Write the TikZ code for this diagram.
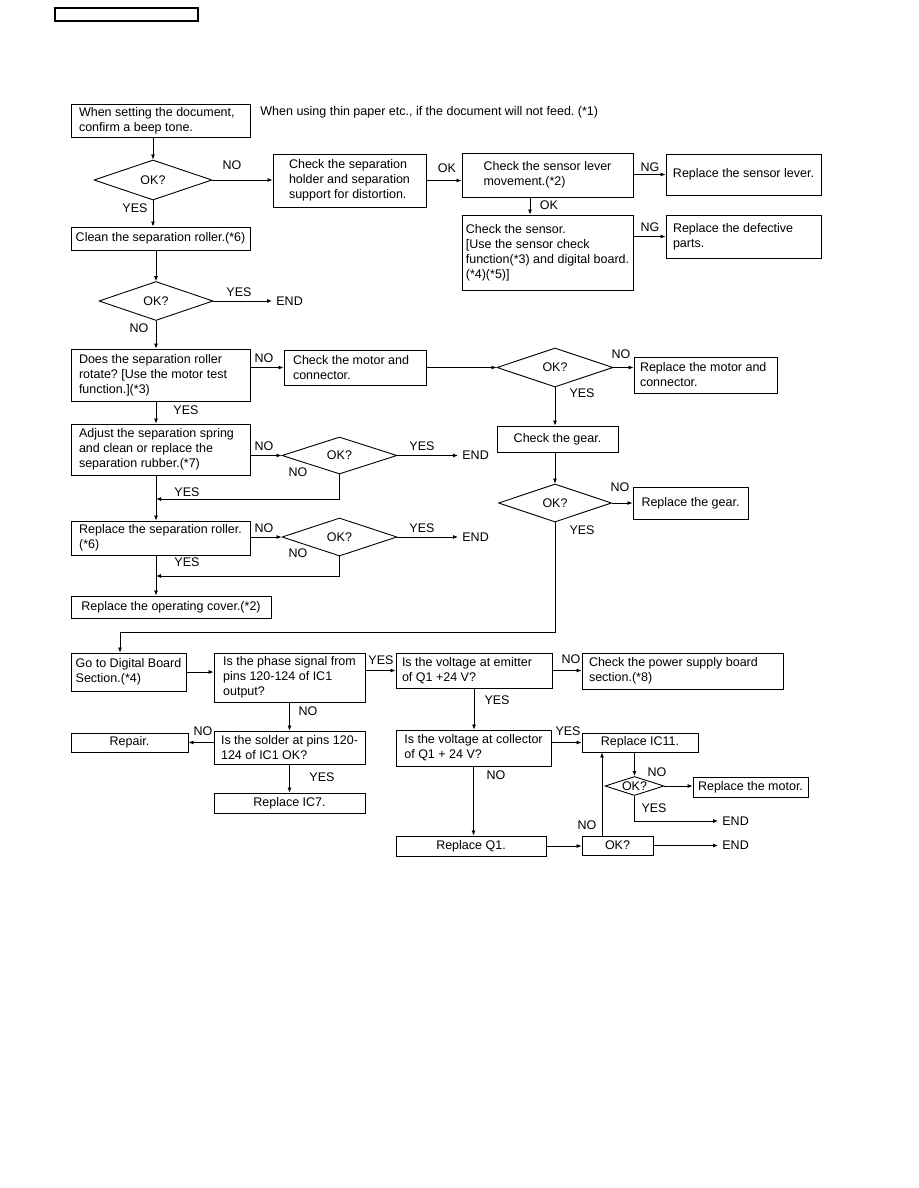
\documentclass[tikz,border=0pt]{standalone}
\usepackage{fontspec}
\setmainfont{Liberation Sans}
\usepackage{tikz}
\usetikzlibrary{arrows.meta,shapes.geometric}
\newcommand{\diagfont}{\fontsize{12.5}{15}\selectfont}
\frenchspacing

\begin{document}
\begin{tikzpicture}[x=1pt, y=-1pt, line width=0.8pt, every node/.style={font=\diagfont}, box/.style={draw, line width=0.9pt, align=left, inner sep=0pt}, lbox/.style={box, align=flush left, text width=#1}, dia/.style={draw, diamond, aspect=3, line width=0.9pt, inner sep=0pt}, lbl/.style={inner sep=0pt}, fin/.style={anchor=west, inner xsep=4pt, inner ysep=0pt}, >={Latex[length=5pt,width=4pt]}]
\useasboundingbox (0,0) rectangle (918,1188);
\node[box, line width=1.3pt, minimum width=143pt, minimum height=13pt] (hd) at (126.5,14.5) {};
% feeding checks
\node[lbox=163pt, minimum width=179pt, minimum height=33pt] (a) at (160.5,120.5) {When setting the document,\\confirm a beep tone.};
\node[anchor=west, inner sep=0pt] (note) at (260,112) {When using thin paper etc., if the document will not feed. (*1)};
\node[dia, minimum width=118pt, minimum height=40pt] (ok1) at (153,180) {OK?};
\node[box, minimum width=153pt, minimum height=53pt] (b) at (349.5,180.5) {Check the separation\\holder and separation\\support for distortion.};
\node[box, minimum width=171pt, minimum height=44pt] (c) at (547.5,175) {Check the sensor lever\\movement.(*2)};
\node[box, minimum width=155pt, minimum height=41pt] (d) at (743.5,174.5) {Replace the sensor lever.};
\node[box, minimum width=171pt, minimum height=75pt] (e) at (547.5,252.5) {Check the sensor.\\{}[Use the sensor check\\function(*3) and digital board.\\(*4)(*5)]};
\node[lbox=141pt, minimum width=155pt, minimum height=43pt] (f) at (743.5,236.5) {Replace the defective\\parts.};
\node[box, minimum width=179pt, minimum height=23pt] (g) at (160.5,238.5) {Clean the separation roller.(*6)};
\node[dia, minimum width=114pt, minimum height=39pt] (ok2) at (156,301) {OK?};
\node[fin] (end1) at (272,301) {END};
% separation roller
\node[lbox=163pt, minimum width=179pt, minimum height=52pt] (h) at (160.5,375) {Does the separation roller\\rotate? [Use the motor test\\function.](*3)};
\node[lbox=124pt, minimum width=142pt, minimum height=35pt] (i) at (355,367.5) {Check the motor and\\connector.};
\node[dia, minimum width=116pt, minimum height=39pt] (ok3) at (555,367.5) {OK?};
\node[lbox=131pt, minimum width=143pt, minimum height=36pt] (j) at (705.5,375) {Replace the motor and\\connector.};
\node[box, minimum width=121pt, minimum height=26pt] (k) at (557.5,439) {Check the gear.};
\node[dia, minimum width=113pt, minimum height=38pt] (ok4) at (555,503) {OK?};
\node[box, minimum width=115pt, minimum height=32pt] (l) at (690.5,503) {Replace the gear.};
\node[lbox=163pt, minimum width=179pt, minimum height=51pt] (m) at (160.5,449.5) {Adjust the separation spring\\and clean or replace the\\separation rubber.(*7)};
\node[dia, minimum width=115pt, minimum height=37pt] (ok5) at (339.5,455.5) {OK?};
\node[fin] (end2) at (458,455.5) {END};
\node[box, minimum width=179pt, minimum height=34pt] (n) at (160.5,538) {Replace the separation roller.\\(*6)};
\node[dia, minimum width=115pt, minimum height=38pt] (ok6) at (339.5,537) {OK?};
\node[fin] (end3) at (458,537) {END};
\node[box, minimum width=200pt, minimum height=22pt] (o) at (171,607) {Replace the operating cover.(*2)};
\coordinate (j1) at (156,499);
\coordinate (j2) at (156,576);
\coordinate (c1) at (120,632);
% digital board
\node[box, minimum width=115pt, minimum height=38pt] (p) at (128.5,672) {Go to Digital Board\\Section.(*4)};
\node[box, minimum width=151pt, minimum height=49pt] (q) at (289.5,677.5) {Is the phase signal from\\pins 120-124 of IC1\\output?};
\node[lbox=144pt, minimum width=156pt, minimum height=35pt] (r) at (474,670.5) {Is the voltage at emitter\\of Q1 +24 V?};
\node[lbox=187pt, minimum width=201pt, minimum height=36pt] (s) at (682.5,671) {Check the power supply board\\section.(*8)};
\node[box, minimum width=151pt, minimum height=33pt] (t) at (289.5,747.5) {Is the solder at pins 120-\\124 of IC1 OK?};
\node[box, minimum width=117pt, minimum height=19pt] (u) at (129.5,742.5) {Repair.};
\node[box, minimum width=151pt, minimum height=20pt] (v) at (289.5,803) {Replace IC7.};
\node[box, minimum width=155pt, minimum height=36pt] (w) at (473.5,748) {Is the voltage at collector\\of Q1 + 24 V?};
\node[box, minimum width=116pt, minimum height=19pt] (x) at (640,742.5) {Replace IC11.};
\node[dia, minimum width=59pt, minimum height=19pt] (ok7) at (634.5,786) {OK?};
\node[box, minimum width=115pt, minimum height=20pt] (y) at (750.5,787) {Replace the motor.};
\node[fin] (end4) at (718,821) {END};
\node[box, minimum width=150pt, minimum height=20pt] (z) at (471,846) {Replace Q1.};
\node[box, minimum width=71pt, minimum height=19pt] (za) at (617.5,845.5) {OK?};
\node[fin] (end5) at (718,845.5) {END};
% branch labels
\node[lbl] (t1) at (232,165) {NO}; \node[lbl] (t2) at (447,168) {OK}; \node[lbl] (t3) at (650,167) {NG};
\node[lbl] (t4) at (549,205) {OK}; \node[lbl] (t5) at (650,227) {NG}; \node[lbl] (t6) at (135,208) {YES};
\node[lbl] (t7) at (239,292) {YES}; \node[lbl] (t8) at (139,328) {NO}; \node[lbl] (t9) at (264,358) {NO};
\node[lbl] (t10) at (621,354) {NO}; \node[lbl] (t11) at (582,393) {YES}; \node[lbl] (t12) at (186,410) {YES};
\node[lbl] (t13) at (264,446) {NO}; \node[lbl] (t14) at (422,446) {YES}; \node[lbl] (t15) at (298,472) {NO};
\node[lbl] (t16) at (187,492) {YES}; \node[lbl] (t17) at (620,487) {NO}; \node[lbl] (t18) at (582,530) {YES};
\node[lbl] (t19) at (264,528) {NO}; \node[lbl] (t20) at (422,528) {YES}; \node[lbl] (t21) at (298,553) {NO};
\node[lbl] (t22) at (187,562) {YES}; \node[lbl] (t23) at (381,660) {YES}; \node[lbl] (t24) at (571,659) {NO};
\node[lbl] (t25) at (308,711) {NO}; \node[lbl] (t26) at (203,731) {NO}; \node[lbl] (t27) at (322,777) {YES};
\node[lbl] (t28) at (497,700) {YES}; \node[lbl] (t29) at (568,731) {YES}; \node[lbl] (t30) at (657,772) {NO};
\node[lbl] (t31) at (654,808) {YES}; \node[lbl] (t32) at (496,775) {NO}; \node[lbl] (t33) at (587,825) {NO};
% connectors
\draw[->] (a.south -| ok1) -- (ok1.north); \draw[->] (ok1.east) -- (ok1.east -| b.west);
\draw[->] (b.east) -- (b.east -| c.west); \draw[->] (d.west -| c.east) -- (d.west);
\draw[->] ([xshift=-17.5pt]c.south) -- ([xshift=-17.5pt]e.north); \draw[->] (f.west -| e.east) -- (f.west);
\draw[->] (ok1.south) -- (ok1.south |- g.north); \draw[->] (g.south -| ok2) -- (ok2.north);
\draw[->] (ok2.east) -- (end1.west); \draw[->] (ok2.south) -- (ok2.south |- h.north);
\draw[->] (i.west -| h.east) -- (i.west); \draw[->] (i.east) -- (ok3.west);
\draw[->] (ok3.east) -- (ok3.east -| j.west); \draw[->] (ok3.south) -- (ok3.south |- k.north);
\draw[->] (k.south -| ok4) -- (ok4.north); \draw[->] (ok4.east) -- (l.west);
\draw[->] (ok4.south) |- (c1) -- (c1 |- p.north);
\draw[->] (h.south -| j1) -- (m.north -| j1); \draw[->] (ok5.west -| m.east) -- (ok5.west);
\draw[->] (ok5.east) -- (end2.west); \draw[->] (ok5.south) |- (j1);
\draw[->] (m.south -| j1) -- (n.north -| j1); \draw[->] (ok6.west -| n.east) -- (ok6.west);
\draw[->] (ok6.east) -- (end3.west); \draw[->] (ok6.south) |- (j2);
\draw[->] (n.south -| j2) -- (o.north -| j2);
\draw[->] (p.east) -- (p.east -| q.west); \draw[->] (r.west -| q.east) -- (r.west);
\draw[->] (r.east) -- (r.east -| s.west); \draw[->] (q.south) -- (t.north);
\draw[->] (u.east -| t.west) -- (u.east); \draw[->] (t.south) -- (v.north);
\draw[->] (r.south) -- (r.south |- w.north); \draw[->] (x.west -| w.east) -- (x.west);
\draw[->] (x.south -| ok7) -- (ok7.north); \draw[->] (ok7.east) -- (ok7.east -| y.west);
\draw[->] (ok7.south) |- (end4.west); \draw[->] (w.south) -- (w.south |- z.north);
\draw[->] (z.east) -- (z.east -| za.west); \draw[->] (za.east) -- (end5.west);
\draw[->] ([xshift=-15.5pt]za.north) -- ([xshift=-15.5pt]za.north |- x.south);
\end{tikzpicture}
\end{document}
